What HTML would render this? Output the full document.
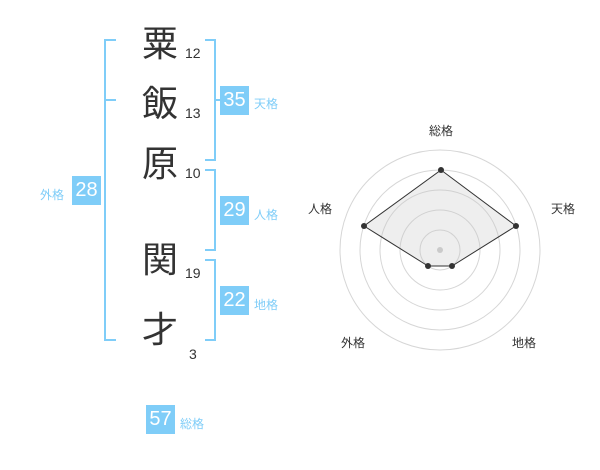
<!DOCTYPE html>
<html><head><meta charset="utf-8"><style>
body{margin:0;width:600px;height:470px;background:#fff;position:relative;overflow:hidden;font-family:"Liberation Sans","Noto Sans CJK JP",sans-serif}
.k{position:absolute;font-size:36px;color:#333;width:40px;text-align:center;line-height:40px}
.n{position:absolute;font-size:14px;color:#333}
.b{position:absolute;background:#7fcdf8;color:#fff;font-size:20px;width:29px;height:29px;line-height:29px;text-align:center}
.l{position:absolute;font-size:12px;color:#7fcdf8}
</style></head><body>
<svg width="600" height="470" style="position:absolute;left:0;top:0">
<g stroke="#7fcdf8" stroke-width="2" fill="none">
<path d="M116 40H105V340H116M105 100H116"/>
<path d="M205 40H215V160H205M215 100H225"/>
<path d="M205 170H215V250H205"/>
<path d="M205 260H215V340H205"/>
</g>
<g stroke="#d6d6d6" fill="none">
<circle cx="440" cy="250" r="100"/><circle cx="440" cy="250" r="80"/><circle cx="440" cy="250" r="60"/><circle cx="440" cy="250" r="40"/><circle cx="440" cy="250" r="20"/>
</g>
<circle cx="440" cy="250" r="3" fill="#ccc"/>
<polygon points="441,170 516,226 452,266 428,266 364,226" fill="rgba(200,200,200,0.3)" stroke="#333" stroke-width="1"/>
<g fill="#333"><circle cx="441" cy="170" r="3"/><circle cx="516" cy="226" r="3"/><circle cx="452" cy="266" r="3"/><circle cx="428" cy="266" r="3"/><circle cx="364" cy="226" r="3"/></g>
<g font-size="12" fill="#333" text-anchor="middle" font-family="Liberation Sans,Noto Sans CJK JP,sans-serif">
<text x="441" y="135">総格</text><text x="563" y="213">天格</text><text x="524" y="347">地格</text><text x="353" y="347">外格</text><text x="320" y="213">人格</text>
</g>
</svg>
<div class="k" style="left:140px;top:24px">粟</div>
<div class="k" style="left:140px;top:84px">飯</div>
<div class="k" style="left:140px;top:144px">原</div>
<div class="k" style="left:140px;top:240px">関</div>
<div class="k" style="left:140px;top:310px">才</div>
<div class="n" style="left:185px;top:45px">12</div>
<div class="n" style="left:185px;top:105px">13</div>
<div class="n" style="left:185px;top:165px">10</div>
<div class="n" style="left:185px;top:265px">19</div>
<div class="n" style="left:189px;top:346px">3</div>
<div class="b" style="left:220px;top:86px">35</div><div class="l" style="left:254px;top:95px">天格</div>
<div class="b" style="left:72px;top:176px">28</div><div class="l" style="left:40px;top:186px">外格</div>
<div class="b" style="left:220px;top:196px">29</div><div class="l" style="left:254px;top:206px">人格</div>
<div class="b" style="left:220px;top:286px">22</div><div class="l" style="left:254px;top:296px">地格</div>
<div class="b" style="left:146px;top:405px">57</div><div class="l" style="left:180px;top:415px">総格</div>
</body></html>
